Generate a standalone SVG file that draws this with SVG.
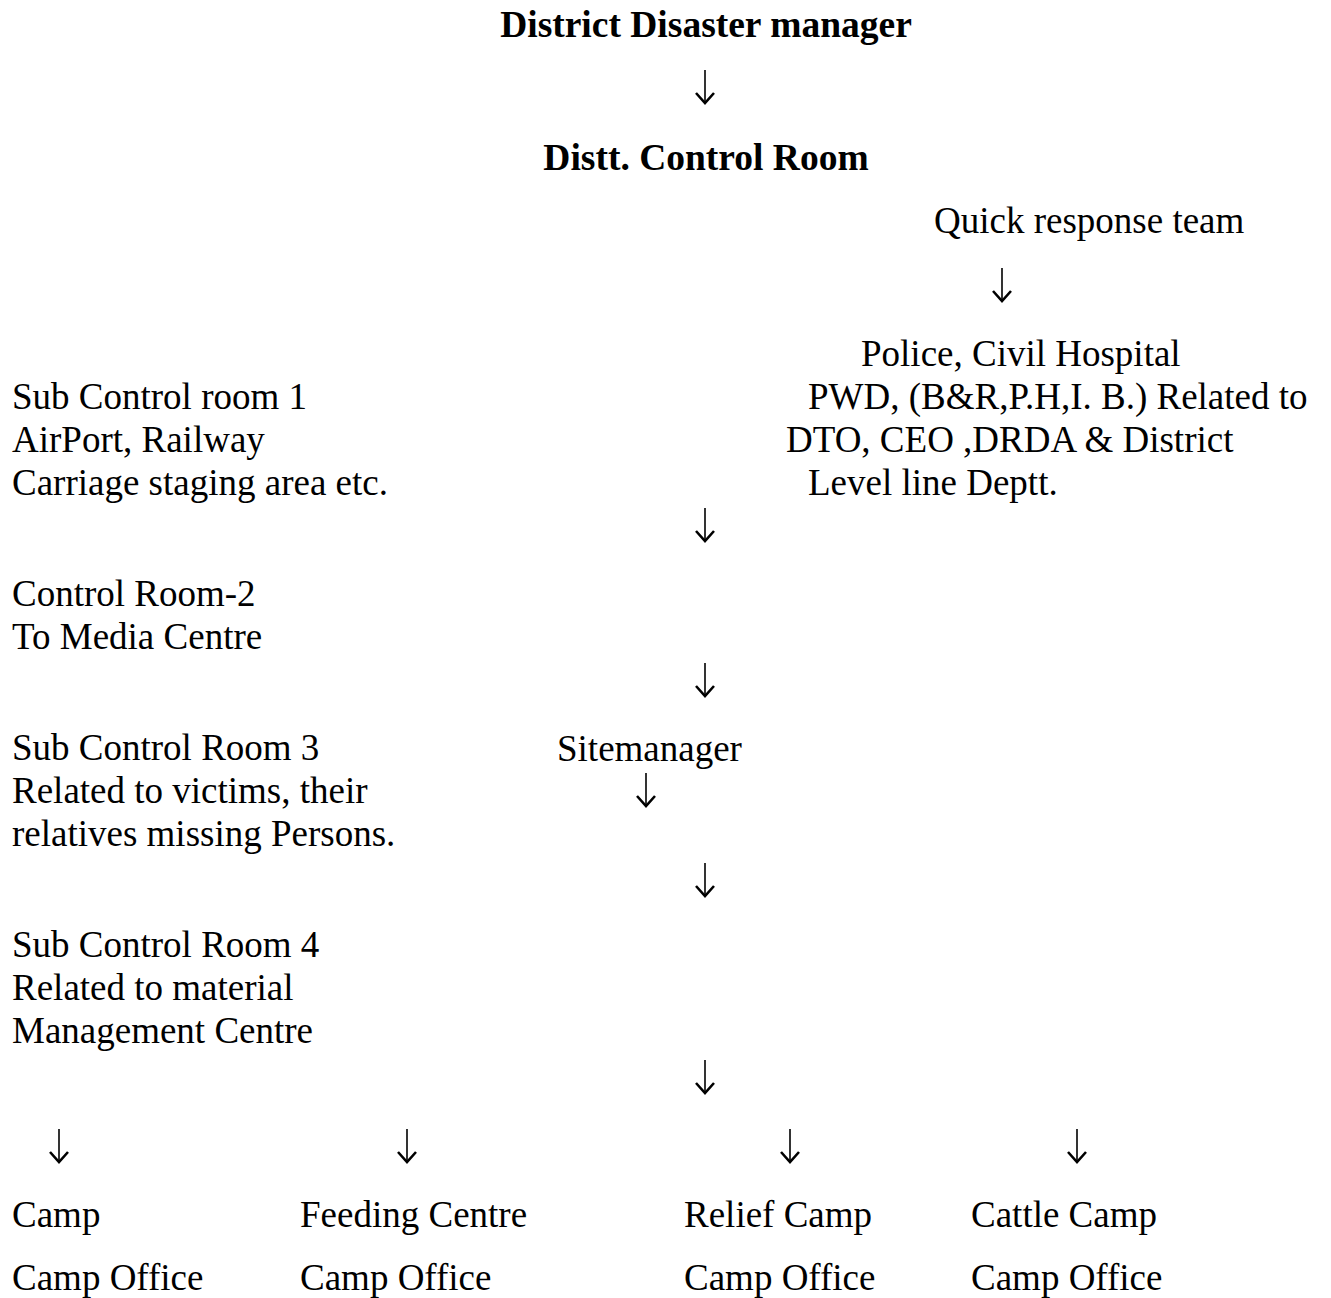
<svg xmlns="http://www.w3.org/2000/svg" width="1331" height="1298" viewBox="0 0 1331 1298">
<style>
text{font-family:"Liberation Serif","Times New Roman",serif;font-size:37px;fill:#000}
.b{font-weight:bold;font-size:37.5px}
.c{text-anchor:middle}
.shaft{stroke:#000;stroke-width:1.6;fill:none}
.head{stroke:#000;stroke-width:2.6;fill:none;stroke-linejoin:miter;stroke-linecap:butt}
</style>
<defs>
<g id="arr"><path class="shaft" d="M0 0V33"/><path class="head" d="M-9 23L0 33L9 23"/></g>
</defs>
<rect width="1331" height="1298" fill="#fff"/>
<g id="n-ddm"><text class="b c" x="706" y="37">District Disaster manager</text></g>
<g id="n-dcr"><text class="b c" x="706" y="170">Distt. Control Room</text></g>
<g id="n-qrt"><text x="934" y="233">Quick response team</text></g>
<g id="n-police"><text x="861" y="366">Police, Civil Hospital</text><text x="808" y="409">PWD, (B&amp;R,P.H,I. B.) Related to</text><text x="786" y="452">DTO, CEO ,DRDA &amp; District</text><text x="808" y="495">Level line Deptt.</text></g>
<g id="n-scr1"><text x="12" y="409">Sub Control room 1</text><text x="12" y="452">AirPort, Railway</text><text x="12" y="495">Carriage staging area etc.</text></g>
<g id="n-cr2"><text x="12" y="606">Control Room-2</text><text x="12" y="649">To Media Centre</text></g>
<g id="n-scr3"><text x="12" y="760">Sub Control Room 3</text><text x="12" y="803">Related to victims, their</text><text x="12" y="846">relatives missing Persons.</text></g>
<g id="n-site"><text x="557" y="761">Sitemanager</text></g>
<g id="n-scr4"><text x="12" y="957">Sub Control Room 4</text><text x="12" y="1000">Related to material</text><text x="12" y="1043">Management Centre</text></g>
<g id="n-camp"><text x="12" y="1227">Camp</text><text x="12" y="1290">Camp Office</text></g>
<g id="n-feed"><text x="300" y="1227">Feeding Centre</text><text x="300" y="1290">Camp Office</text></g>
<g id="n-relief"><text x="684" y="1227">Relief Camp</text><text x="684" y="1290">Camp Office</text></g>
<g id="n-cattle"><text x="971" y="1227">Cattle Camp</text><text x="971" y="1290">Camp Office</text></g>
<g id="connectors">
<use href="#arr" x="705" y="70"/>
<use href="#arr" x="1002" y="268"/>
<use href="#arr" x="705" y="508"/>
<use href="#arr" x="705" y="663"/>
<use href="#arr" x="646" y="773"/>
<use href="#arr" x="705" y="863"/>
<use href="#arr" x="705" y="1060"/>
<use href="#arr" x="59" y="1129"/>
<use href="#arr" x="407" y="1129"/>
<use href="#arr" x="790" y="1129"/>
<use href="#arr" x="1077" y="1129"/>
</g>
</svg>
